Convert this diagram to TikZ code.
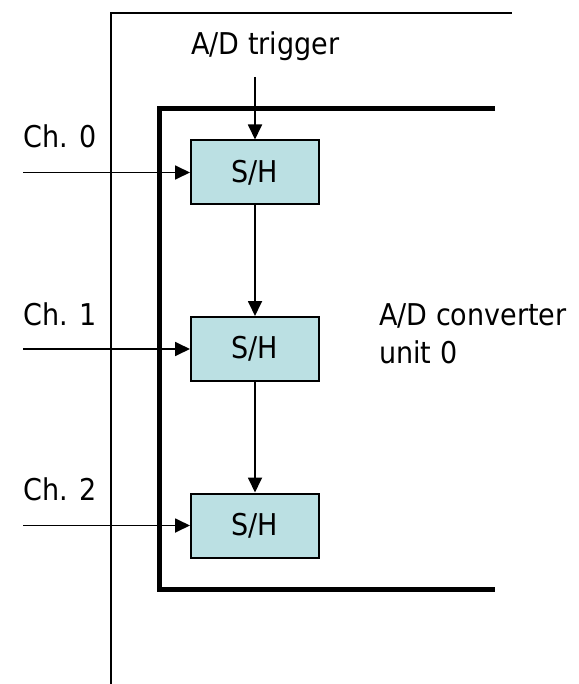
\documentclass[tikz,border=0pt]{standalone}
\usepackage{fontspec}
\setmainfont{DejaVu Sans Condensed}
\usetikzlibrary{arrows.meta}
\definecolor{shfill}{HTML}{BBE0E3}
\tikzset{
  shbox/.style={draw=black, line width=2pt, fill=shfill, minimum width=128pt,
    minimum height=64pt, inner sep=0pt, font=\fontsize{30}{36}\selectfont},
  lbl/.style={anchor=base west, inner sep=0pt, font=\fontsize{30}{36}\selectfont},
  sig/.style={line width=1.8pt, -{Triangle[length=15pt,width=14pt]}},
  frame/.style={line width=1.8pt},
  unitframe/.style={line width=5pt, line join=miter},
}
\begin{document}
\begin{tikzpicture}[x=1pt, y=-1pt]
  \useasboundingbox (0,0) rectangle (578,684);

  % outer device boundary
  \draw[frame] (111,684) -- (111,13) -- (512,13);
  % converter unit boundary
  \draw[unitframe] (495,109) -- (159,109) -- (159,589) -- (495,589);

  % sample-and-hold stages
  \node[shbox] (sh0) at (255,172.5) {S/H};
  \node[shbox] (sh1) at (255,349) {S/H};
  \node[shbox] (sh2) at (255,525.5) {S/H};

  % labels
  \node[lbl] (trig) at (191,55) {A/D trigger};
  \node[lbl] (c0) at (23,148) {Ch. 0};
  \node[lbl] (c1) at (23,325) {Ch. 1};
  \node[lbl] (c2) at (23,500) {Ch. 2};
  \node[lbl] (conv) at (379,325) {A/D converter};
  \node[lbl] (unit) at (379,363) {unit 0};

  % signal start points
  \coordinate (t0) at (255,77);
  \coordinate (i0) at (23,172.5);
  \coordinate (i1) at (23,349);
  \coordinate (i2) at (23,525.5);

  % connections
  \draw[sig] (t0) -- (sh0.north);
  \draw[sig] (sh0.south) -- (sh1.north);
  \draw[sig] (sh1.south) -- (sh2.north);
  \draw[sig] (i0) -- (sh0.west);
  \draw[sig] (i1) -- (sh1.west);
  \draw[sig] (i2) -- (sh2.west);
\end{tikzpicture}
\end{document}
